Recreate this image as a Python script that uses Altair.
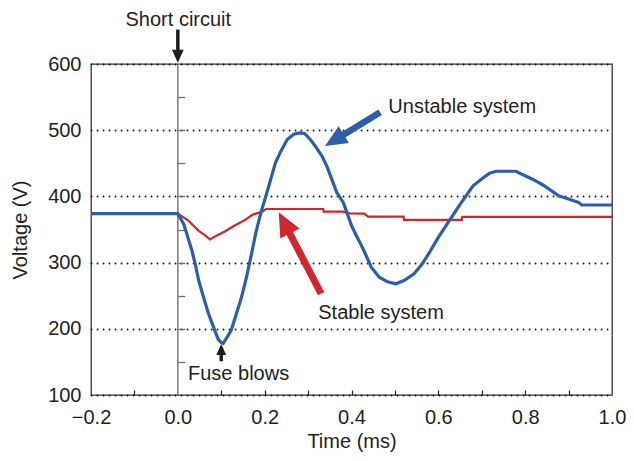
import math
import altair as alt
import pandas as pd

# ---------------- data ----------------
blue_t = [-0.2, 0.0, 0.0136, 0.021, 0.0325, 0.04, 0.048, 0.059, 0.0705, 0.082, 0.093, 0.1,
          0.1045, 0.116, 0.123, 0.135, 0.146, 0.1575, 0.169, 0.18, 0.1916, 0.203, 0.214, 0.225,
          0.237, 0.252, 0.267, 0.28, 0.292, 0.305, 0.3166, 0.332, 0.343, 0.3545, 0.366, 0.381,
          0.392, 0.4, 0.411, 0.4227, 0.43, 0.4455, 0.464, 0.483, 0.502, 0.521, 0.544, 0.563,
          0.582, 0.6, 0.62, 0.635, 0.65, 0.665, 0.68, 0.699, 0.718, 0.733, 0.779, 0.794, 0.817,
          0.839, 0.862, 0.877, 0.9, 0.923, 0.93, 1.0]
blue_v = [374, 374, 358, 343, 318, 298, 273, 248, 223, 203, 184, 179,
          178, 190, 198, 223, 246, 276, 311, 346, 376, 401, 426, 451,
          468, 486, 494, 496, 495, 486, 476, 461, 446, 426, 406, 391,
          371, 356, 341, 326, 316, 293, 278, 271, 268, 273, 283, 298,
          318, 338, 358, 373, 388, 402, 416, 426, 435, 438, 438, 433, 426,
          418, 408, 401, 396, 391, 387, 387]

red_t = [0.0, 0.025, 0.048, 0.063, 0.074, 0.0855, 0.108, 0.131, 0.1536, 0.1727, 0.1955, 0.203,
         0.335, 0.336, 0.381, 0.396, 0.43, 0.438, 0.52, 0.521, 0.654, 0.655, 1.0]
red_v = [374, 363, 348, 341, 335, 339.5, 347, 356, 364, 372.5, 377, 381,
         381, 377, 377, 374.5, 374, 369.5, 369.5, 364.5, 364.5, 369, 369]

x_label_values = [-0.2, 0.0, 0.2, 0.4, 0.6, 0.8, 1.0]
x_minor_ticks = [-0.1, 0.1, 0.2, 0.3, 0.4, 0.5, 0.6, 0.7, 0.8, 0.9]
y_label_values = [100, 200, 300, 400, 500, 600]
y_minor_ticks = [150, 200, 250, 300, 350, 400, 450, 500, 550]

ann_label = ["Short circuit", "Unstable system", "Stable system", "Fuse blows"]
ann_t = [-0.1205, 0.4848, 0.3234, 0.0234]
ann_v = [658, 526, 215, 122]

arrow_tail_t = [0.0, 0.466, 0.330, 0.1]
arrow_tail_v = [652, 527, 253, 151]
arrow_tip_t = [0.0, 0.339, 0.2325, 0.1]
arrow_tip_v = [602, 476, 376, 177]
arrow_color = ["#1c1c1c", "#2b5fad", "#d3262c", "#1c1c1c"]

# ---------------- styles / layout ----------------
W, H = 521, 331
XMIN, XMAX = -0.2, 1.0
YMIN, YMAX = 100, 600
FONT = "Liberation Sans"
TXT = "#231f20"
BLUE = "#2b5fad"
RED = "#d3262c"
GRAY = "#707070"
head_len = [13, 22, 24, 11]
shaft_w = [3.5, 6.5, 7.0, 3.5]

px_per_t = W / (XMAX - XMIN)
px_per_v = H / (YMAX - YMIN)

neck_t, neck_v, angle, hsize = [], [], [], []
for i in range(len(arrow_tip_t)):
    dx = (arrow_tip_t[i] - arrow_tail_t[i]) * px_per_t
    dy = -(arrow_tip_v[i] - arrow_tail_v[i]) * px_per_v
    n = math.hypot(dx, dy)
    ux, uy = dx / n, dy / n
    back = 0.6 * head_len[i]
    neck_t.append(arrow_tip_t[i] - ux * back / px_per_t)
    neck_v.append(arrow_tip_v[i] + uy * back / px_per_v)
    angle.append(math.degrees(math.atan2(ux, -uy)) % 360)
    hsize.append(4 * head_len[i] ** 2)

df_blue = pd.DataFrame({"t": blue_t, "v": blue_v})
df_red = pd.DataFrame({"t": red_t, "v": red_v})
df_ann = pd.DataFrame({"label": ann_label, "t": ann_t, "v": ann_v})
df_arr = pd.DataFrame({
    "tail_t": arrow_tail_t, "tail_v": arrow_tail_v,
    "neck_t": neck_t, "neck_v": neck_v,
    "tip_t": arrow_tip_t, "tip_v": arrow_tip_v,
    "color": arrow_color, "shaft": shaft_w, "hsize": hsize, "angle": angle,
})
df_zero = pd.DataFrame({"t": [0.0], "v0": [YMIN], "v1": [YMAX]})

xs = alt.Scale(domain=[XMIN, XMAX], nice=False, zero=False)
ys = alt.Scale(domain=[YMIN, YMAX], nice=False, zero=False)

zero_offset_right = -(W - (0 - XMIN) * px_per_t)

zero_line = alt.Chart(df_zero).mark_rule(color=GRAY, strokeWidth=1.4).encode(
    x=alt.X("t:Q", scale=xs, axis=alt.Axis(
        orient="top", offset=-H, values=x_minor_ticks, labels=False, domain=False,
        grid=False, ticks=True, tickSize=5, tickColor="#222222", tickWidth=1.2, title=None)),
    y=alt.Y("v0:Q", scale=ys, axis=alt.Axis(
        orient="right", offset=zero_offset_right, values=y_minor_ticks, labels=False,
        domain=False, grid=False, ticks=True, tickSize=7, tickColor=GRAY, tickWidth=1.3,
        title=None)),
    y2="v1:Q",
)

red_line = alt.Chart(df_red).mark_line(color=RED, strokeWidth=2.2).encode(
    x=alt.X("t:Q", scale=xs, axis=alt.Axis(
        orient="bottom", values=x_label_values, format=".1f", title="Time (ms)",
        ticks=False, tickSize=0, domain=False, grid=False, labelFlush=False,
        labelPadding=12, titlePadding=4, labelOverlap=False)),
    y=alt.Y("v:Q", scale=ys, axis=alt.Axis(
        orient="left", values=y_label_values, title="Voltage (V)", ticks=False, tickSize=0,
        domain=False, grid=True, gridDash=[0.1, 5.9], gridCap="round", gridWidth=1.8,
        gridColor="#1a1a1a", labelPadding=10, titlePadding=17, labelFlush=False)),
    order="t:Q",
)

blue_line = alt.Chart(df_blue).mark_line(color=BLUE, strokeWidth=3.2).encode(
    x=alt.X("t:Q", scale=xs, axis=None),
    y=alt.Y("v:Q", scale=ys, axis=None),
    order="t:Q",
)

shafts = alt.Chart(df_arr).mark_rule(strokeCap="butt").encode(
    x=alt.X("tail_t:Q", scale=xs, axis=None),
    y=alt.Y("tail_v:Q", scale=ys, axis=None),
    x2="neck_t:Q",
    y2="neck_v:Q",
    color=alt.Color("color:N", scale=None),
    strokeWidth=alt.StrokeWidth("shaft:Q", scale=None),
)

heads = alt.Chart(df_arr).mark_point(
    shape="M0,0L0.45,1L-0.45,1Z", filled=True, opacity=1, strokeWidth=0
).encode(
    x=alt.X("tip_t:Q", scale=xs, axis=None),
    y=alt.Y("tip_v:Q", scale=ys, axis=None),
    color=alt.Color("color:N", scale=None),
    size=alt.Size("hsize:Q", scale=None),
    angle=alt.Angle("angle:Q", scale=None),
)

labels = alt.Chart(df_ann).mark_text(
    align="left", baseline="alphabetic", fontSize=20, font=FONT, color=TXT
).encode(
    x=alt.X("t:Q", scale=xs, axis=None),
    y=alt.Y("v:Q", scale=ys, axis=None),
    text="label:N",
)

chart = alt.layer(zero_line, red_line, blue_line, shafts, heads, labels).resolve_axis(
    x="independent", y="independent"
).properties(
    width=W, height=H,
    autosize=alt.AutoSizeParams(type="none"),
    padding={"left": 83, "top": 56, "right": 14, "bottom": 58},
).configure_view(
    stroke="#333333", strokeWidth=1.3
).configure_axis(
    labelFont=FONT, titleFont=FONT, labelFontSize=20, titleFontSize=20,
    labelColor=TXT, titleColor=TXT, titleFontWeight="normal",
)

chart.save("out.html", embed_options={"renderer": "svg", "actions": False})
